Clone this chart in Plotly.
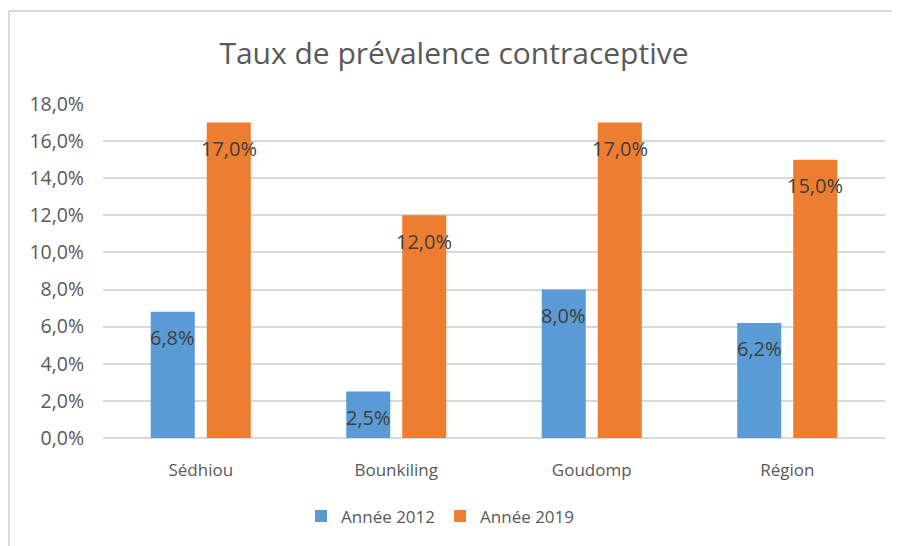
import plotly.graph_objects as go

categories = ["Sédhiou", "Bounkiling", "Goudomp", "Région"]
series_names = ["Année 2012", "Année 2019"]
values_2012 = [0.068, 0.025, 0.080, 0.062]
values_2019 = [0.170, 0.120, 0.170, 0.150]
colors = ["#5B9BD5", "#ED7D31"]

FONT = "'Open Sans', sans-serif"
GREY = "#595959"

fig = go.Figure()
for name, vals, col in zip(series_names, [values_2012, values_2019], colors):
    fig.add_trace(go.Bar(name=name, x=categories, y=vals, marker_color=col,
                         marker_line_width=0))

def fmt(v):
    return f"{v*100:.1f}%".replace(".", ",")

annotations = []
for shift, vals in zip([-28, 28], [values_2012, values_2019]):
    for c, v in zip(categories, vals):
        annotations.append(dict(x=c, y=v, xref="x", yref="y", text=fmt(v),
                                showarrow=False, xshift=shift, yshift=-26,
                                font=dict(family=FONT, size=20, color="#404040")))

# chart area border (top and left visible in reference)
shapes = [
    dict(type="line", xref="paper", yref="paper", x0=-0.1202, x1=1.2, y0=1.2784, y1=1.2784,
         line=dict(color="#d9d9d9", width=2)),
    dict(type="line", xref="paper", yref="paper", x0=-0.1202, x1=-0.1202, y0=1.2784, y1=-0.5,
         line=dict(color="#d9d9d9", width=2)),
]

fig.update_layout(
    width=892, height=538,
    margin=dict(l=95, r=15, t=96, b=108),
    paper_bgcolor="white", plot_bgcolor="white",
    separators=", ",
    barmode="group", bargap=0.427, bargroupgap=0.214,
    title=dict(text="Taux de prévalence contraceptive", x=0.5, xanchor="center",
               y=0.915, yanchor="middle",
               font=dict(family=FONT, size=30, color=GREY)),
    font=dict(family=FONT, size=17, color=GREY),
    legend=dict(orientation="h", x=0.431, xanchor="center", y=-0.235, yanchor="middle",
                font=dict(family=FONT, size=17, color=GREY), itemwidth=30,
                traceorder="normal"),
    annotations=annotations,
    shapes=shapes,
)
fig.update_yaxes(range=[0, 0.18], dtick=0.02, tickformat=".1%",
                 gridcolor="#d9d9d9", gridwidth=1.5, zeroline=True,
                 zerolinecolor="#d9d9d9", zerolinewidth=1.5,
                 showline=False, ticklabelstandoff=18,
                 tickfont=dict(family=FONT, size=19.5, color=GREY))
fig.update_xaxes(showline=False, ticklabelstandoff=20,
                 tickfont=dict(family=FONT, size=17, color=GREY))

fig.write_html("out.html")
